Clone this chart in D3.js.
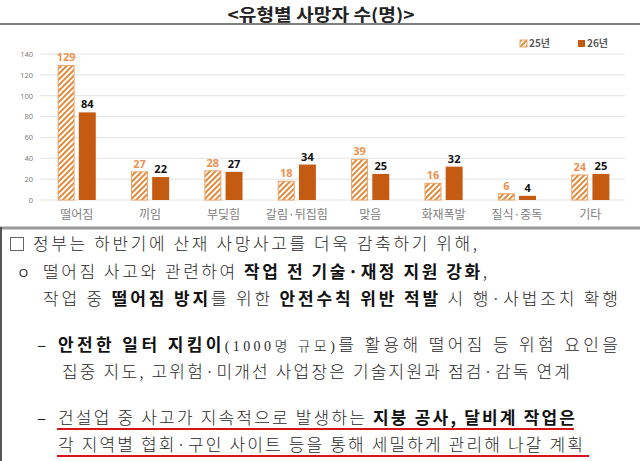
<!DOCTYPE html>
<html>
<head>
<meta charset="utf-8">
<script src="https://cdn.jsdelivr.net/npm/d3@7"></script>
<style>
	body { margin: 0; background: #fff; }
	svg text { white-space: pre; }
</style>
</head>
<body>
<svg id="vis" width="640" height="461"></svg>
<script>
	// chart data
	const title = "<유형별 사망자 수(명)>";
	const categories = ["떨어짐", "끼임", "부딪힘", "갈림·뒤집힘", "맞음", "화재폭발", "질식·중독", "기타"];
	const seriesNames = ["25년", "26년"];
	const values25 = [129, 27, 28, 18, 39, 16, 6, 24];
	const values26 = [84, 22, 27, 34, 25, 32, 4, 25];
	const yTicks = [0, 20, 40, 60, 80, 100, 120, 140];

	// text block below the chart, [text, style] where style is "n" normal, "b" bold, "s" small
	const bodyLines = [
		[["정부는 하반기에 산재 사망사고를 더욱 감축하기 위해,", "n"]],
		[["떨어짐 사고와 관련하여 ", "n"], ["작업 전 기술·재정 지원 강화", "b"], [",", "n"]],
		[["작업 중 ", "n"], ["떨어짐 방지", "b"], ["를 위한 ", "n"], ["안전수칙 위반 적발", "b"], [" 시 행·사법조치 확행", "n"]],
		[["안전한 일터 지킴이", "b"], ["(1000명 규모)", "s"], ["를 활용해 떨어짐 등 위험 요인을", "n"]],
		[["집중 지도, 고위험·미개선 사업장은 기술지원과 점검·감독 연계", "n"]],
		[["건설업 중 사고가 지속적으로 발생하는 ", "n"], ["지붕 공사, 달비계 작업은", "b"]],
		[["각 지역별 협회·구인 사이트 등을 통해 세밀하게 관리해 나갈 계획", "n"]]
	];
	const bullets = ["□", "○", "", "-", "", "-", ""];

	const svg = d3.select("svg#vis");
	const kr = "'Noto Sans CJK KR', sans-serif";
	const orange = "#C55A11";
	const hatch = "#E08A3C";

	// hatch pattern for 25년 bars
	const defs = svg.append("defs");
	defs.append("pattern")
		.attr("id", "hatch")
		.attr("patternUnits", "userSpaceOnUse")
		.attr("width", 4)
		.attr("height", 4)
		.attr("patternTransform", "rotate(45)")
		.call(p => {
			p.append("rect").attr("width", 4).attr("height", 4).attr("fill", "#fff");
			p.append("rect").attr("width", 2).attr("height", 4).attr("fill", hatch);
		});

	// title + rule under it
	svg.append("text")
		.attr("x", 321)
		.attr("y", 21)
		.attr("text-anchor", "middle")
		.attr("font-family", kr)
		.attr("font-weight", 700)
		.attr("font-size", 17)
		.attr("fill", "#222")
		.attr("textLength", 187)
		.attr("lengthAdjust", "spacingAndGlyphs")
		.text(title);

	svg.append("line")
		.attr("x1", 0).attr("x2", 640)
		.attr("y1", 24).attr("y2", 24)
		.attr("stroke", "#808080")
		.attr("stroke-width", 2);

	// scales
	const x = d3.scaleBand()
		.domain(categories)
		.range([40, 627])
		.paddingInner(0.48)
		.paddingOuter(0.24);

	const xs = d3.scaleBand()
		.domain(seriesNames)
		.range([0, x.bandwidth()])
		.paddingInner(0.2);

	const y = d3.scaleLinear()
		.domain([0, 140])
		.range([200, 54]);

	// grid
	const grid = svg.append("g");
	grid.selectAll("line")
		.data(yTicks)
		.enter()
		.append("line")
		.attr("x1", 40).attr("x2", 625)
		.attr("y1", d => y(d)).attr("y2", d => y(d))
		.attr("stroke", "#e3e3e3")
		.attr("stroke-width", 1);

	// y axis labels
	const yAxis = svg.append("g")
		.attr("transform", "translate(33,0)")
		.call(d3.axisLeft(y).tickValues(yTicks).tickSize(0).tickPadding(0));
	yAxis.select(".domain").remove();
	yAxis.selectAll("text")
		.attr("font-family", "'Open Sans', sans-serif")
		.attr("font-size", 7.5)
		.attr("fill", "#777");

	// x axis labels
	const xAxis = svg.append("g")
		.attr("transform", "translate(0,200)")
		.call(d3.axisBottom(x).tickSize(0).tickPadding(0));
	xAxis.select(".domain").remove();
	xAxis.selectAll("text")
		.attr("y", 19)
		.attr("dy", 0)
		.attr("font-family", kr)
		.attr("font-size", 12)
		.attr("fill", "#808080");

	// bars
	const rows = categories.map((c, i) => ({cat: c, v: [values25[i], values26[i]]}));
	const groups = svg.append("g").selectAll("g")
		.data(rows)
		.enter()
		.append("g")
		.attr("transform", d => "translate(" + x(d.cat) + ",0)");

	groups.append("rect")
		.attr("x", xs("25년") + 0.5)
		.attr("y", d => y(d.v[0]))
		.attr("width", xs.bandwidth() - 1)
		.attr("height", d => y(0) - y(d.v[0]))
		.attr("fill", "url(#hatch)")
		.attr("stroke", "#EBA468")
		.attr("stroke-width", 1);

	groups.append("rect")
		.attr("x", xs("26년"))
		.attr("y", d => y(d.v[1]))
		.attr("width", xs.bandwidth())
		.attr("height", d => y(0) - y(d.v[1]))
		.attr("fill", orange);

	groups.append("text")
		.attr("x", xs("25년") + xs.bandwidth() / 2)
		.attr("y", d => y(d.v[0]) - 4)
		.attr("text-anchor", "middle")
		.attr("font-family", "'Open Sans', sans-serif")
		.attr("font-weight", 700)
		.attr("font-size", 11)
		.attr("fill", "#EE9150")
		.text(d => d.v[0]);

	groups.append("text")
		.attr("x", xs("26년") + xs.bandwidth() / 2)
		.attr("y", d => y(d.v[1]) - 4)
		.attr("text-anchor", "middle")
		.attr("font-family", "'Open Sans', sans-serif")
		.attr("font-weight", 700)
		.attr("font-size", 11)
		.attr("fill", "#111")
		.text(d => d.v[1]);

	// legend
	const legend = svg.append("g");
	[[520, "url(#hatch)", "#EBA468"], [578, orange, "none"]].forEach((l, i) => {
		legend.append("rect")
			.attr("x", l[0]).attr("y", 40)
			.attr("width", 7).attr("height", 7)
			.attr("fill", l[1])
			.attr("stroke", l[2]);
		legend.append("text")
			.attr("x", l[0] + 9).attr("y", 47)
			.attr("font-family", kr)
			.attr("font-weight", 700)
			.attr("font-size", 10)
			.attr("fill", "#595959")
			.text(seriesNames[i]);
	});

	// text box
	svg.append("line")
		.attr("x1", 0).attr("x2", 640)
		.attr("y1", 228).attr("y2", 228)
		.attr("stroke", "#9a9a9a")
		.attr("stroke-width", 3);
	svg.append("line")
		.attr("x1", 1).attr("x2", 1)
		.attr("y1", 227).attr("y2", 461)
		.attr("stroke", "#555")
		.attr("stroke-width", 2);

	// line layout: [y center, x start, x end, bullet x]
	const layout = [
		[244, 33, 477, 10],
		[272, 43, 487, 20],
		[299, 43, 618, 0],
		[345, 58, 618, 37],
		[372, 62, 570, 0],
		[418, 58, 575, 37],
		[445, 58, 583, 0]
	];
	const fs = 17;

	bodyLines.forEach((parts, i) => {
		const [cy, x0, x1, bx] = layout[i];
		const t = svg.append("text")
			.attr("x", x0)
			.attr("y", cy + 6)
			.attr("font-family", kr)
			.attr("font-size", fs)
			.attr("fill", "#2a2a2a")
			.attr("textLength", x1 - x0)
			.attr("lengthAdjust", "spacing");
		parts.forEach(p => {
			const s = t.append("tspan").text(p[0]);
			if (p[1] === "b") s.attr("font-weight", 700).attr("fill", "#111");
			else if (p[1] === "s") s.attr("font-size", 14).attr("font-family", "'Liberation Serif', " + kr).attr("font-weight", 300);
			else s.attr("font-weight", 300);
		});

		const b = bullets[i];
		if (b === "□") {
			svg.append("rect")
				.attr("x", bx + 0.5).attr("y", cy - 6.5)
				.attr("width", 13).attr("height", 13)
				.attr("fill", "none")
				.attr("stroke", "#666")
				.attr("stroke-width", 1);
		} else if (b === "○") {
			svg.append("circle")
				.attr("cx", bx + 3.5).attr("cy", cy + 1)
				.attr("r", 3.5)
				.attr("fill", "none")
				.attr("stroke", "#333")
				.attr("stroke-width", 1.2);
		} else if (b === "-") {
			svg.append("text")
				.attr("x", bx).attr("y", cy + 6)
				.attr("font-family", kr)
				.attr("font-size", fs)
				.attr("fill", "#222")
				.text("–");
		}
	});

	// red underlines under the last two lines
	[[429, 57, 574], [456, 57, 589]].forEach(u => {
		svg.append("line")
			.attr("x1", u[1]).attr("x2", u[2])
			.attr("y1", u[0]).attr("y2", u[0])
			.attr("stroke", "#D7141A")
			.attr("stroke-width", 2);
	});
</script>
</body>
</html>
